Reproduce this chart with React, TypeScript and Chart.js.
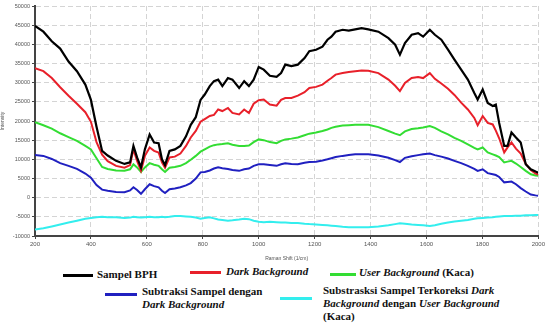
import React, { useEffect, useRef } from "react";
import { Chart, registerables } from "chart.js";

Chart.register(...registerables);

const ramanShift = [
  200, 230, 260, 290, 320, 350, 380, 400, 420, 440, 460, 490, 520, 540, 552, 565, 579, 593, 610, 626,
  642, 654, 665, 681, 700, 720, 740, 757, 775, 792, 807, 825, 840, 855, 870, 890, 906, 930, 948, 965,
  982, 1000, 1018, 1040, 1064, 1080, 1095, 1117, 1140, 1164, 1181, 1205, 1228, 1246, 1260, 1275, 1300, 1322, 1345, 1368,
  1392, 1428, 1464, 1488, 1505, 1523, 1547, 1570, 1588, 1612, 1630, 1653, 1677, 1700, 1724, 1748, 1771, 1783, 1801, 1819,
  1837, 1848, 1860, 1878, 1890, 1904, 1920, 1937, 1955, 1973, 1990, 2000,
];

const sampelBPH = [
  44800, 43300, 40800, 38900, 35500, 33000, 29500, 25500, 18500, 12200, 11000, 9600, 8800, 9200, 13500, 10500, 7900, 12600, 16500, 14400,
  14200, 10000, 8500, 12200, 12600, 13500, 16000, 19000, 21000, 25500, 26900, 29100, 30400, 30800, 29100, 31200, 30800, 28600, 30400, 29100,
  30800, 34100, 33400, 31800, 31500, 32500, 34700, 34300, 34700, 36400, 38200, 38600, 39400, 41200, 42000, 43300, 43800, 43600, 43900, 44200,
  43900, 43300, 41600, 39900, 37300, 40300, 42500, 42900, 42000, 43800, 42500, 41200, 38600, 36000, 33400, 30800, 27300, 25600, 28200, 24700,
  23900, 24300, 19500, 13500, 13500, 17000, 15700, 14400, 8700, 7400, 6800, 6500,
];

const darkBackground = [
  33800, 33000, 31200, 28800, 26600, 24500, 22300, 19800, 14500, 11200, 9500, 8300, 7800, 8500, 12600, 9600, 7000, 10900, 13100, 12200,
  11800, 9200, 7800, 10500, 10700, 11500, 13500, 15700, 17400, 19800, 20500, 21300, 21600, 23000, 22600, 23400, 22100, 21700, 23000, 22100,
  24500, 25400, 25600, 24300, 24000, 25500, 26000, 26000, 26600, 27500, 28600, 28900, 29500, 30500, 31200, 32100, 32500, 32800, 33000, 33200,
  33100, 32500, 30800, 29200, 27800, 29900, 31200, 31500, 31200, 32500, 31000, 29800, 28400, 26800, 24800, 23000, 20800, 18900, 21300, 19500,
  19100, 17500, 15500, 11800, 13100, 14400, 12800, 11500, 8800, 7200, 6300, 6000,
];

const userBackground = [
  19700, 18900, 18000, 16800, 15800, 14800, 13500, 12600, 10300, 8000, 7500, 7100, 7000, 7400, 8700, 7900, 6700, 7900, 9000, 8600,
  8300, 7400, 6700, 7800, 8000, 8300, 9000, 9900, 10900, 12000, 12600, 13300, 13700, 13900, 14000, 14200, 13800, 13500, 13500, 13600,
  14500, 15200, 15000, 14500, 14200, 14800, 15200, 15400, 15700, 16300, 16700, 17000, 17400, 17800, 18200, 18500, 18800, 18900, 19000, 19000,
  19000, 18400, 17400, 16700, 16300, 17300, 17900, 18100, 18300, 18700, 18200, 17300, 16500, 15600, 14800, 13900, 13000, 12600, 13100, 11800,
  11300, 11000, 10600, 9200, 9400, 9600, 8900, 8000, 7000, 6100, 5800, 5700,
];

const subtraksiDark = [
  11100, 10900, 10100, 9000, 8300, 7500, 6300, 5200, 3300, 2100, 1800, 1500, 1400, 1900, 2700, 2000, 1000, 2200, 3500, 3000,
  2700, 1800, 1200, 2200, 2400, 2700, 3200, 3800, 5000, 6600, 6700, 7100, 7600, 7900, 7700, 7500, 7200, 7000, 7400, 7600,
  8300, 8700, 8700, 8500, 8300, 8700, 9000, 8800, 8700, 9100, 9300, 9400, 9700, 10000, 10300, 10600, 10900, 11100, 11300, 11300,
  11300, 11000, 10400, 9800, 9300, 10400, 10800, 11100, 11300, 11500, 11100, 10700, 10200, 9600, 9000, 8300, 7500, 7000, 7400, 6400,
  6100, 5900, 5400, 4000, 4100, 4200, 3500, 2500, 1600, 800, 600, 500,
];

const terkoreksi = [
  -8300, -8000, -7500, -7000, -6500, -6000, -5500, -5300, -5100, -5000, -5100, -5100, -5300, -5200, -5000, -5100, -5200, -5100, -5000, -5100,
  -5100, -5000, -5100, -5000, -4800, -4800, -4900, -5000, -5200, -5500, -5300, -5100, -5400, -5700, -5800, -6000, -5900, -5700, -5500, -5600,
  -6000, -6300, -6400, -6300, -6400, -6500, -6500, -6600, -6600, -6800, -6900, -7000, -7100, -7200, -7300, -7400, -7600, -7700, -7700, -7700,
  -7700, -7500, -7200, -6900, -6700, -6800, -7000, -7100, -7200, -7400, -7200, -6800, -6500, -6200, -6000, -5800, -5500, -5400, -5300, -5200,
  -5100, -5000, -4900, -4800, -4800, -4800, -4700, -4700, -4600, -4600, -4500, -4500,
];

const seriesColors = ["#000000", "#e8202a", "#33dd33", "#2020c0", "#33eeee"];

const toPoints = (ys: number[]) => ramanShift.map((x, i) => ({ x, y: ys[i] }));

const serif = "'Liberation Serif', 'Times New Roman', serif";
const sans = "Arial, 'Liberation Sans', sans-serif";

const LegendLine = ({ left, top, width, color }: { left: number; top: number; width: number; color: string }) => (
  <div style={{ position: "absolute", left, top, width, height: 3, background: color }} />
);

const textStyle: React.CSSProperties = {
  position: "absolute",
  fontFamily: serif,
  fontWeight: "bold",
  fontSize: 11,
  lineHeight: "13px",
  color: "#111",
  whiteSpace: "nowrap",
};

export default function App() {
  const canvasRef = useRef<HTMLCanvasElement | null>(null);

  useEffect(() => {
    if (!canvasRef.current) return;
    const names = [
      "Sampel BPH",
      "Dark Background",
      "User Background (Kaca)",
      "Subtraksi Sampel dengan Dark Background",
      "Substrasksi Sampel Terkoreksi Dark Background dengan User Background (Kaca)",
    ];
    const all = [sampelBPH, darkBackground, userBackground, subtraksiDark, terkoreksi];
    const plain = (v: any) => String(v);
    const chart = new Chart(canvasRef.current, {
      type: "line",
      data: {
        datasets: all.map((ys, i) => ({
          label: names[i],
          data: toPoints(ys),
          borderColor: seriesColors[i],
          backgroundColor: seriesColors[i],
          borderWidth: i === 0 ? 2.2 : 2,
          pointRadius: 0,
          tension: 0,
          fill: false,
        })),
      },
      options: {
        animation: false,
        responsive: true,
        maintainAspectRatio: false,
        layout: { padding: { top: 6, right: 4, left: 0, bottom: 0 } },
        plugins: { legend: { display: false }, tooltip: { enabled: false } },
        scales: {
          x: {
            type: "linear",
            min: 200,
            max: 2000,
            ticks: { stepSize: 200, callback: plain, font: { size: 6, family: sans }, color: "#555", padding: 2, maxRotation: 0 },
            grid: { color: "#d4d4d4", lineWidth: 1, tickLength: 3, tickColor: "#444", tickBorderDash: [] },
            border: { display: true, color: "#444", width: 2, dash: [5, 3] },
            title: { display: true, text: "Raman Shift (1/cm)", font: { size: 5, family: sans }, color: "#555", padding: { top: 1, bottom: 0 } },
            afterFit: (axis: any) => {
              axis.height = 26;
            },
          },
          y: {
            min: -10000,
            max: 50000,
            ticks: { stepSize: 5000, callback: plain, font: { size: 5.5, family: sans }, color: "#555", padding: 2 },
            grid: { color: "#d4d4d4", lineWidth: 1, tickLength: 3, tickColor: "#444", tickBorderDash: [] },
            border: { display: true, color: "#444", width: 2, dash: [5, 3] },
            title: { display: true, text: "Intensity", font: { size: 5, family: sans }, color: "#555", padding: { top: 0, bottom: 0 } },
            afterFit: (axis: any) => {
              axis.width = 35;
            },
          },
        },
      },
    });
    return () => chart.destroy();
  }, []);

  return (
    <div style={{ position: "absolute", left: 0, top: 0, width: 547, height: 324, background: "#fff", overflow: "hidden" }}>
      <div style={{ position: "absolute", left: 0, top: 0, width: 547, height: 262 }}>
        <canvas ref={canvasRef} />
      </div>
      <LegendLine left={63} top={274} width={30} color={seriesColors[0]} />
      <div style={{ ...textStyle, left: 97, top: 268 }}>Sampel BPH</div>
      <LegendLine left={190} top={271} width={31} color={seriesColors[1]} />
      <div style={{ ...textStyle, left: 226, top: 265, fontStyle: "italic" }}>Dark Background</div>
      <LegendLine left={330} top={273} width={26} color={seriesColors[2]} />
      <div style={{ ...textStyle, left: 359, top: 266 }}>
        <i>User Background</i> (Kaca)
      </div>
      <LegendLine left={105} top={293} width={32} color={seriesColors[3]} />
      <div style={{ ...textStyle, left: 142, top: 285 }}>
        Subtraksi Sampel dengan
        <br />
        <i>Dark Background</i>
      </div>
      <LegendLine left={280} top={297} width={32} color={seriesColors[4]} />
      <div style={{ ...textStyle, left: 323, top: 284 }}>
        Substrasksi Sampel Terkoreksi <i>Dark</i>
        <br />
        <i>Background</i> dengan <i>User Background</i>
        <br />
        (Kaca)
      </div>
    </div>
  );
}
